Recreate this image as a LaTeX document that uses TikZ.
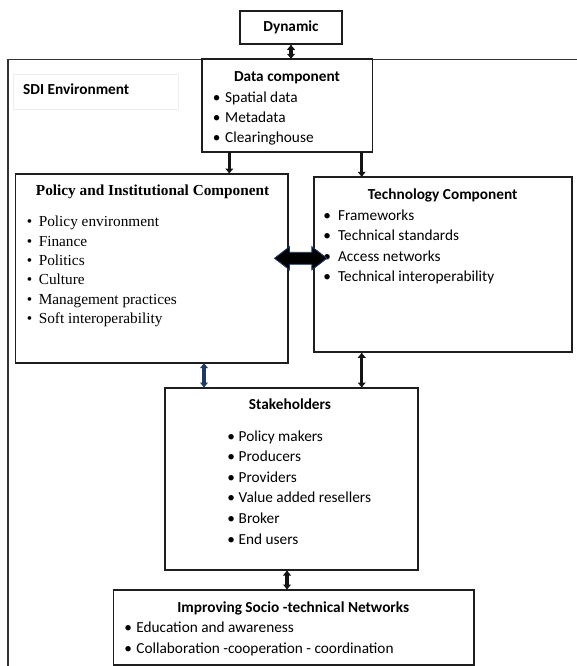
\documentclass[tikz,border=0pt]{standalone}
\usepackage{fontspec}
\setmainfont{Carlito}
\newfontfamily\tnr{Liberation Serif}
\usetikzlibrary{arrows.meta,calc}
\definecolor{navyc}{RGB}{31,56,100}
\definecolor{boxc}{RGB}{30,30,30}
\newcommand\bitem[2]{\llap{\makebox[0pt][c]{•}\hspace{#1}}#2}
\begin{document}
\begin{tikzpicture}[x=1pt,y=-1pt,
  box/.style={draw=boxc,line width=1.8pt,inner sep=0pt,outer sep=0pt},
  labelbox/.style={draw=black!7,line width=0.8pt,inner sep=0pt,outer sep=0pt},
  frame/.style={draw=black!80,line width=1.3pt},
  item/.style={inner sep=0pt,anchor=base west,font=\fontsize{15.3}{18}\selectfont},
  ttl/.style={inner sep=0pt,anchor=base,font=\bfseries\fontsize{15.3}{18}\selectfont},
  conn/.style={draw=black!92,line width=3.2pt},
  tip/.tip={Latex[length=5.5pt,width=9pt]},
  bigarrow/.style={draw=navyc,fill=black,line width=0.9pt,line join=miter}
]
\useasboundingbox (0,0) rectangle (577,666);
% outer SDI environment frame
\draw[frame] (577,59.3) -- (8.1,59.3) -- (8.1,667);
\node[labelbox,minimum width=165.5pt,minimum height=35pt] (sdibox) at (95.75,91.5) {};
\node[inner sep=0pt,anchor=base west,font=\bfseries\fontsize{15.3}{18}\selectfont] (sdi) at (23,94.3) {SDI Environment};

% boxes
\node[box,minimum width=102pt,minimum height=33.6pt] (dyn) at (291,27.5) {};
\node[box,fill=white,minimum width=170.8pt,minimum height=92.4pt] (data) at (287.1,105.5) {};
\node[box,minimum width=272.3pt,minimum height=188.7pt] (pol) at (151.65,268.35) {};
\node[box,minimum width=258pt,minimum height=175pt] (tech) at (442.6,264.8) {};
\node[box,minimum width=252.8pt,minimum height=182pt] (stake) at (291.3,479) {};
\node[box,minimum width=360.6pt,minimum height=75pt] (imp) at (293.7,627.5) {};

% titles
\node[ttl] (dynt) at (291,31.7) {Dynamic};
\node[ttl] (datat) at (287,81.7) {Data component};
\node[ttl,font=\tnr\bfseries\fontsize{15.3}{18}\selectfont] (polt) at (152.6,195.7) {Policy and Institutional Component};
\node[ttl] (techt) at (442.7,199) {Technology Component};
\node[ttl] (staket) at (290,409.3) {Stakeholders};
\node[ttl] (impt) at (293.3,612) {Improving Socio -technical Networks};

% lists
\foreach \t [count=\i] in {Spatial data,Metadata,Clearinghouse}
  \node[item] (d\i) at (225,{102.3+20.2*(\i-1)}) {\bitem{8.6pt}{\t}};
\foreach \t [count=\i] in {Policy environment,Finance,Politics,Culture,Management practices,Soft interoperability}
  \node[item,font=\tnr\fontsize{15.3}{18}\selectfont] (p\i) at (38.6,{226.7+19.35*(\i-1)}) {\bitem{9.2pt}{\t}};
\foreach \t [count=\i] in {Frameworks,Technical standards,Access networks,Technical interoperability}
  \node[item] (t\i) at (337.9,{220+20.5*(\i-1)}) {\bitem{11pt}{\t}};
\foreach \t [count=\i] in {Policy makers,Producers,Providers,Value added resellers,Broker,End users}
  \node[item] (s\i) at (238.5,{441+20.65*(\i-1)}) {\bitem{7.5pt}{\t}};
\foreach \t [count=\i] in {Education and awareness,Collaboration -cooperation - coordination}
  \node[item] (m\i) at (136.2,{632.3+20.7*(\i-1)}) {\bitem{8.2pt}{\t}};

% connectors
\draw[conn,tip-tip] (dyn.south) -- (dyn.south |- data.north);
\draw[conn,-tip] ([xshift=27.6pt]data.south west) -- ([xshift=27.6pt]data.south west |- pol.north);
\draw[conn,-tip] ([xshift=-10.8pt]data.south east) -- ([xshift=-10.8pt]data.south east |- tech.north);
\draw[conn,draw=navyc,tip-tip] ([xshift=39.1pt]stake.north west |- pol.south) -- ([xshift=39.1pt]stake.north west);
\draw[conn,tip-tip] ([xshift=-56pt]stake.north east |- tech.south) -- ([xshift=-56pt]stake.north east);
\draw[conn,tip-tip] ([xshift=-4.3pt]stake.south) -- ([xshift=-4.3pt]stake.south |- imp.north);

% big double arrow between policy and technology
\coordinate (bigc) at ($(pol.east)!0.5!(tech.west)+(0,-8.3)$);
\begin{scope}[shift={(bigc)}]
\filldraw[bigarrow] (-26.2,0) -- (-11.2,-11.5) -- (-11.2,-6) -- (11.2,-6) -- (11.2,-11.5)
  -- (26.2,0) -- (11.2,11.5) -- (11.2,6) -- (-11.2,6) -- (-11.2,11.5) -- cycle;
\end{scope}
\end{tikzpicture}
\end{document}
